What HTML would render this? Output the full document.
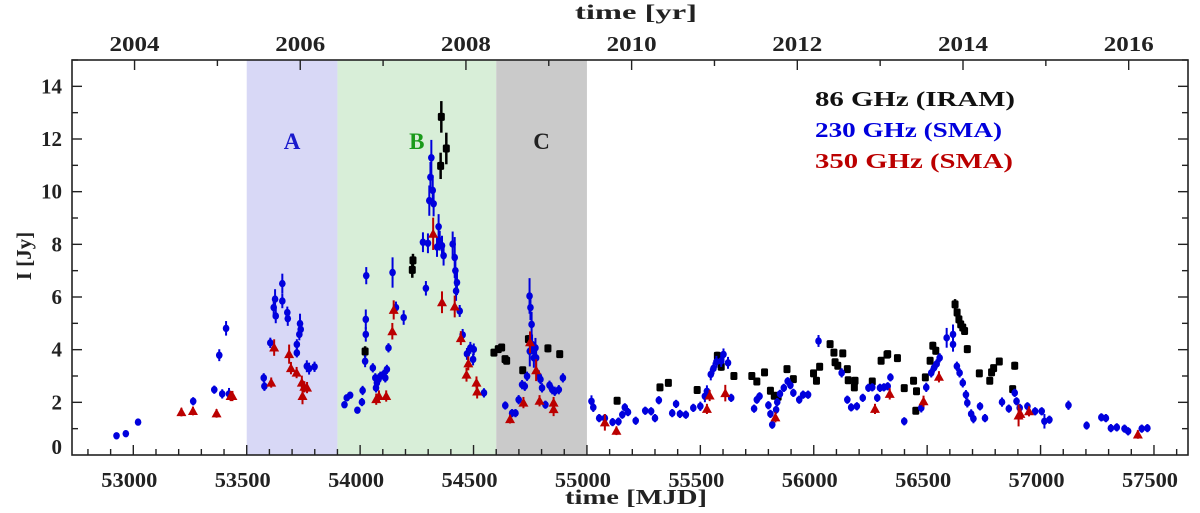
<!DOCTYPE html>
<html><head><meta charset="utf-8"><style>
html,body{margin:0;padding:0;background:#fff}
svg{display:block}
text{font-family:"Liberation Serif",serif;font-weight:bold}
</style></head><body>
<svg id="chart" width="1200" height="513"></svg>
<script>
const blueMJD=[52926,52967,53021,53264,53357,53379,53409,53392,53422,53575,53578,53604,53619,53625,53628,53657,53657,53681,53679,53721,53721,53732,53735,53738,53765,53775,53799,
53931,53941,53956,53988,54008,54011,54027,54025,54025,54022,54056,54067,54074,54081,54089,54103,54111,54118,54070,54125,54143,54158,54192,54290,54277,54299,54305,54310,54314,54320,54324,54346,54339,54351,54361,54368,54408,54417,54420,54427,54423,54439,54452,54471,54486,54501,54498,54546,
54640,54670,54685,54699,54714,54726,54736,54747,54751,54756,54748,54758,54766,54773,54776,54788,54795,54802,54817,54835,54847,54858,54876,54894,
55020,55028,55054,55079,55113,55139,55156,55167,55181,55215,55257,55283,55300,55317,55376,55393,55410,55436,55469,55500,55520,55529,55546,55558,55571,55592,55602,55622,55636,55737,55749,55761,55800,55809,55817,55834,55839,55851,55868,55885,55897,55910,55936,55953,55975,56021,56123,56148,56165,56190,56216,56241,56258,56280,56292,56309,56326,56338,56399,56474,56496,56518,56530,56542,56555,56586,56614,56614,56631,56643,56657,56671,56677,56694,56704,56733,56755,56830,56860,56886,56894,56908,56942,56976,57005,57017,57039,57123,57203,57268,57288,57310,57336,57370,57386,57446,57471];
const blueJy=[0.73,0.81,1.25,2.04,2.48,3.79,4.81,2.32,2.32,2.93,2.61,4.26,5.6,5.92,5.28,6.51,5.85,5.18,5.41,4.2,3.88,4.58,4.99,4.77,3.37,3.28,3.35,
1.91,2.17,2.27,1.7,2.01,2.45,6.81,5.15,4.58,3.56,3.31,2.93,2.74,2.87,2.99,3.06,2.93,3.25,2.55,4.07,6.93,5.6,5.22,6.33,8.08,8.04,9.66,10.55,11.29,10.05,9.54,8.67,7.9,8.14,7.95,7.57,8.01,7.5,7.0,6.55,6.23,5.47,4.56,3.84,4.07,4.01,3.63,2.36,
1.88,1.59,1.59,2.1,2.67,2.61,2.99,6.04,5.6,4.96,3.94,4.2,3.69,4.07,3.69,2.99,2.87,2.55,1.91,2.65,2.48,2.42,2.48,2.93,
2.04,1.81,1.4,1.4,1.25,1.27,1.53,1.81,1.63,1.3,1.68,1.66,1.4,2.08,1.59,1.94,1.56,1.53,1.79,1.85,2.23,2.42,3.06,3.29,3.54,3.57,3.82,3.5,2.17,1.76,2.1,2.23,1.89,1.56,1.15,1.72,2.01,2.32,2.55,2.8,2.65,2.36,2.1,2.29,2.29,4.33,3.12,2.1,1.81,1.85,2.17,2.55,2.57,2.17,2.55,2.57,2.61,2.95,1.28,1.79,2.57,3.12,3.31,3.46,3.69,4.45,4.58,4.2,3.37,3.12,2.74,2.29,1.98,1.56,1.38,1.85,1.4,2.01,1.76,2.36,2.04,1.79,1.85,1.66,1.66,1.28,1.34,1.89,1.12,1.43,1.4,1.02,1.05,1.0,0.9,1.0,1.02];
const blueErr=[0.05,0.05,0.05,0.08,0.08,0.15,0.2,0.1,0.15,0.1,0.1,0.12,0.3,0.3,0.2,0.3,0.2,0.2,0.15,0.12,0.1,0.15,0.3,0.15,0.15,0.15,0.12,
0.05,0.05,0.05,0.05,0.08,0.1,0.25,0.3,0.2,0.15,0.1,0.1,0.1,0.1,0.1,0.1,0.1,0.1,0.1,0.1,0.5,0.15,0.2,0.2,0.3,0.3,0.5,0.5,0.6,0.5,0.4,0.4,0.3,0.3,0.3,0.3,0.4,0.7,0.5,0.4,0.3,0.15,0.15,0.15,0.15,0.15,0.15,0.1,
0.08,0.08,0.08,0.1,0.1,0.1,0.1,0.6,0.4,0.4,0.5,0.3,0.3,0.3,0.3,0.15,0.1,0.1,0.08,0.1,0.1,0.1,0.1,0.1,
0.15,0.1,0.08,0.08,0.08,0.08,0.08,0.08,0.08,0.08,0.08,0.08,0.08,0.08,0.08,0.08,0.08,0.08,0.08,0.1,0.15,0.15,0.15,0.15,0.15,0.15,0.15,0.15,0.08,0.08,0.08,0.08,0.08,0.08,0.08,0.08,0.08,0.08,0.08,0.08,0.08,0.08,0.08,0.08,0.08,0.15,0.1,0.08,0.08,0.08,0.08,0.08,0.08,0.08,0.08,0.08,0.08,0.08,0.08,0.1,0.1,0.1,0.1,0.1,0.1,0.3,0.3,0.2,0.1,0.1,0.1,0.1,0.1,0.1,0.1,0.08,0.08,0.1,0.08,0.08,0.08,0.08,0.08,0.08,0.08,0.2,0.08,0.1,0.08,0.08,0.08,0.08,0.08,0.08,0.08,0.08,0.08];
const blackMJD=[54022,54230,54233,54358,54355,54380,54590,54609,54624,54639,54646,54717,54742,54828,54880,55133,55322,55359,55486,55575,55592,55648,55727,55749,55783,55809,55826,55843,55882,55910,55999,56012,56026,56072,56089,56094,56128,56106,56148,56152,56182,56179,56258,56297,56323,56326,56369,56399,56440,56453,56450,56492,56513,56525,56538,56623,56632,56640,56648,56657,56665,56677,56730,56776,56784,56793,56818,56877,56886];
const blackJy=[3.93,7.03,7.39,12.84,10.98,11.64,3.89,4.02,4.08,3.64,3.58,3.22,4.4,4.05,3.83,2.06,2.57,2.74,2.47,3.77,3.35,3.0,3.0,2.79,3.14,2.44,2.25,2.21,3.26,2.88,3.1,2.82,3.35,4.21,3.89,3.52,3.86,3.39,3.26,2.84,2.82,2.57,2.79,3.58,3.81,3.83,3.68,2.54,2.82,2.42,1.68,2.95,3.58,4.15,3.96,5.72,5.41,5.15,4.96,4.84,4.71,4.02,3.1,2.82,3.14,3.3,3.55,2.5,3.39];
const blackErr=[0.2,0.3,0.25,0.6,0.5,0.6,0.12,0.12,0.12,0.12,0.12,0.12,0.15,0.15,0.12,0.1,0.1,0.1,0.1,0.15,0.15,0.1,0.1,0.1,0.1,0.1,0.1,0.1,0.12,0.1,0.12,0.12,0.12,0.12,0.12,0.12,0.12,0.12,0.1,0.1,0.1,0.1,0.1,0.12,0.12,0.12,0.12,0.1,0.1,0.1,0.1,0.12,0.12,0.15,0.15,0.2,0.15,0.15,0.15,0.15,0.15,0.15,0.12,0.12,0.12,0.12,0.12,0.12,0.15];
const redMJD=[53212,53263,53367,53429,53437,53608,53621,53687,53695,53720,53743,53754,53766,53746,54071,54083,54115,54142,54148,54322,54361,54417,54444,54477,54469,54513,54516,54661,54720,54749,54776,54791,54853,54853,55079,55130,55529,55541,55610,55831,56270,56335,56484,56552,56903,56911,56949,57429];
const redJy=[1.63,1.67,1.58,2.24,2.24,2.75,4.08,3.83,3.3,3.13,2.75,2.59,2.56,2.24,2.12,2.24,2.24,4.7,5.51,8.4,5.8,5.64,4.44,3.48,3.05,2.75,2.41,1.36,1.99,4.28,3.22,2.06,1.99,1.74,1.24,0.92,1.75,2.26,2.35,1.43,1.75,2.32,2.04,2.97,1.5,1.56,1.66,0.78];
const redErr=[0.05,0.05,0.05,0.08,0.08,0.08,0.2,0.25,0.12,0.1,0.15,0.1,0.1,0.2,0.1,0.1,0.1,0.2,0.25,0.5,0.3,0.3,0.15,0.15,0.15,0.12,0.15,0.05,0.1,0.3,0.3,0.1,0.1,0.15,0.2,0.05,0.08,0.1,0.2,0.08,0.08,0.1,0.1,0.1,0.3,0.1,0.08,0.05];
const regionNames=['A','B','C'];
const regionStart=[53500,53900,54600];
const regionEnd=[53900,54600,55000];
const regionFill=['#d8d8f6','#d8eed8','#cacaca'];
const regionText=['#1a1acc','#1a9a1a','#222222'];
const mjdTicks=[53000,53500,54000,54500,55000,55500,56000,56500,57000,57500];
const yearTicks=[2004,2006,2008,2010,2012,2014,2016];
const yTicks=[0,2,4,6,8,10,12,14];

const L=72,R=1188,T=60,B=455;
const X0=52729.7,X1=57650,Y0=0,Y1=15;
const sx=v=>L+(v-X0)/(X1-X0)*(R-L);
const sy=v=>B-(v-Y0)/(Y1-Y0)*(B-T);
const yrToMJD=y=>51544.5+(y-2000)*365.25;
const svg=document.getElementById('chart');
const NS='http://www.w3.org/2000/svg';
function mk(tag,attrs,parent){const e=document.createElementNS(NS,tag);for(const k in attrs)e.setAttribute(k,attrs[k]);(parent||svg).appendChild(e);return e;}

for(let i=0;i<regionNames.length;i++){
  const r=mk('rect',{x:sx(regionStart[i]),y:T,width:sx(regionEnd[i])-sx(regionStart[i]),height:B-T,fill:regionFill[i]});
  
  
  const t=mk('text',{x:(sx(regionStart[i])+sx(regionEnd[i]))/2,y:149,'text-anchor':'middle','font-size':23,fill:regionText[i]});
  t.textContent=regionNames[i];
  
  
}

const gB=mk('g',{});


for(let i=0;i<blackMJD.length;i++){
  mk('line',{x1:sx(blackMJD[i]),x2:sx(blackMJD[i]),y1:sy(blackJy[i]+blackErr[i]),y2:sy(blackJy[i]-blackErr[i]),stroke:'#000','stroke-width':2.5},gB);
  const p=mk('rect',{x:sx(blackMJD[i])-3.5,y:sy(blackJy[i])-4,width:7,height:8,rx:1.5,fill:'#000'},gB);
  
  
}
const gBl=mk('g',{});


for(let i=0;i<blueMJD.length;i++){
  mk('line',{x1:sx(blueMJD[i]),x2:sx(blueMJD[i]),y1:sy(blueJy[i]+blueErr[i])-2,y2:sy(blueJy[i]-blueErr[i])+2,stroke:'#0000dd','stroke-width':2},gBl);
  const p=mk('ellipse',{cx:sx(blueMJD[i]),cy:sy(blueJy[i]),rx:3.3,ry:3.7,fill:'#0000dd'},gBl);
  
  
}
const gR=mk('g',{});


for(let i=0;i<redMJD.length;i++){
  const x=sx(redMJD[i]),y=sy(redJy[i]);
  mk('line',{x1:x,x2:x,y1:sy(redJy[i]+redErr[i])-3,y2:sy(redJy[i]-redErr[i])+3,stroke:'#bb0000','stroke-width':2},gR);
  const p=mk('polygon',{points:`${x},${y-5} ${x-5},${y+4} ${x+5},${y+4}`,fill:'#bb0000'},gR);
  
  
}

const fr=mk('rect',{x:L,y:T,width:R-L,height:B-T,fill:'none',stroke:'#222','stroke-width':1.6});


const tk={stroke:'#222','stroke-width':1.4};
for(let m=52800;m<=57600;m+=100){
  const x=sx(m),len=(m%500===0)?10:6;
  mk('line',Object.assign({x1:x,x2:x,y1:B,y2:B-len},tk));
}
for(const m of mjdTicks){
  const t=mk('text',{x:sx(m)-4,y:487,'text-anchor':'middle','font-size':21,fill:'#222',textLength:56,lengthAdjust:'spacingAndGlyphs'});
  t.textContent=m;
  
  
}
for(let y=2003;y<=2017;y++){
  const x=sx(yrToMJD(y));
  if(x<L||x>R)continue;
  mk('line',Object.assign({x1:x,x2:x,y1:T,y2:T+((y%2===0)?10:6)},tk));
}
for(const y of yearTicks){
  const t=mk('text',{x:sx(yrToMJD(y)),y:51,'text-anchor':'middle','font-size':21,fill:'#222',textLength:50,lengthAdjust:'spacingAndGlyphs'});
  t.textContent=y;
  
  
}
for(let v=1;v<=15;v++){
  const y=sy(v),len=(v%2===0)?10:6;
  mk('line',Object.assign({x1:L,x2:L+len,y1:y,y2:y},tk));
  mk('line',Object.assign({x1:R,x2:R-len,y1:y,y2:y},tk));
}
for(const v of yTicks){
  const t=mk('text',{x:62,y:sy(v)+7-(v===0?8:0),'text-anchor':'end','font-size':21,fill:'#222'});
  t.textContent=v;
  
  
}
</script>
<svg width="1200" height="513" style="position:absolute;left:0;top:0">
<text x="636" y="19" text-anchor="middle" font-size="21" fill="#222" textLength="122" lengthAdjust="spacingAndGlyphs">time [yr]</text>
<text x="636" y="504" text-anchor="middle" font-size="21" fill="#222" textLength="142" lengthAdjust="spacingAndGlyphs">time [MJD]</text>
<text x="0" y="0" transform="translate(31,256) rotate(-90)" text-anchor="middle" font-size="21" fill="#222">I [Jy]</text>
<text x="815" y="106" font-size="21" fill="#111" textLength="200" lengthAdjust="spacingAndGlyphs">86 GHz (IRAM)</text>
<text x="815" y="137" font-size="21" fill="#0000dd" textLength="187" lengthAdjust="spacingAndGlyphs">230 GHz (SMA)</text>
<text x="815" y="168" font-size="21" fill="#bb0000" textLength="198" lengthAdjust="spacingAndGlyphs">350 GHz (SMA)</text>
</svg>
</body></html>
